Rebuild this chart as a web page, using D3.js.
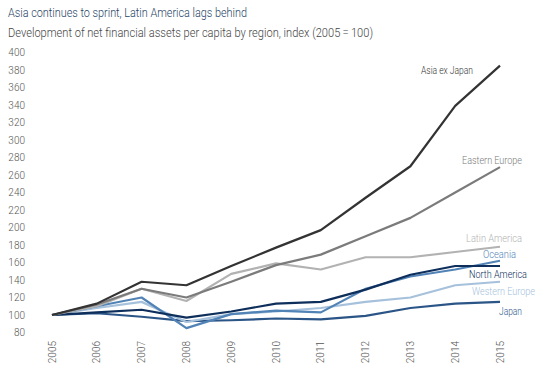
<!DOCTYPE html>
<html>
<head>
<meta charset="utf-8">
<script src="https://cdn.jsdelivr.net/npm/d3@7"></script>
<style>
  body { margin: 0; background: #fff; }
  svg { display: block; font-family: Roboto, "Open Sans", sans-serif; }
</style>
</head>
<body>
<svg id="chart" width="540" height="373"></svg>
<script>
// data
var years = [2005, 2006, 2007, 2008, 2009, 2010, 2011, 2012, 2013, 2014, 2015];
var yTicks = [80, 100, 120, 140, 160, 180, 200, 220, 240, 260, 280, 300, 320, 340, 360, 380, 400];

var asiaExJapan   = [100, 113, 138, 134, 156, 177, 197, 234, 270, 339, 385];
var easternEurope = [100, 112, 130, 120, 138, 157, 169, 190, 211, 240, 269];
var latinAmerica  = [100, 110, 130, 116, 147, 159, 152, 166, 166, 172, 178];
var oceania       = [100, 110, 120,  85, 101, 105, 103, 130, 144, 152, 162];
var northAmerica  = [100, 103, 106,  97, 104, 113, 115, 129, 146, 156, 156];
var westernEurope = [100, 108, 115,  92, 101, 104, 108, 115, 120, 134, 138];
var japan         = [100, 102,  98,  93,  94,  96,  95,  99, 108, 113, 115];

var seriesNames = ["Japan", "Western Europe", "Oceania", "North America", "Latin America", "Eastern Europe", "Asia ex Japan"];
var seriesValues = [japan, westernEurope, oceania, northAmerica, latinAmerica, easternEurope, asiaExJapan];

// styles
var colors = {
  "Asia ex Japan": "#333333",
  "Eastern Europe": "#7b7b7b",
  "Latin America": "#b2b2b2",
  "Oceania": "#5283b6",
  "North America": "#0e2f5c",
  "Western Europe": "#a6c1dc",
  "Japan": "#2b5587"
};
// right edge, baseline, width
var labelPos = {
  "Asia ex Japan": [473, 74, 52],
  "Eastern Europe": [522, 164, 60],
  "Latin America": [522, 242, 56],
  "Oceania": [516, 258, 33],
  "North America": [527, 278, 58],
  "Western Europe": [535, 295, 63],
  "Japan": [522, 315, 23]
};

var svg = d3.select("#chart");

var x = d3.scalePoint().domain(years).range([52, 500]);
var y = d3.scaleLinear().domain([80, 400]).range([332.5, 52.5]);

svg.append("text").attr("x", 8).attr("y", 17)
  .attr("fill", "#1f4466").attr("font-size", 12.5).attr("font-weight", 300)
  .attr("textLength", 239).attr("lengthAdjust", "spacingAndGlyphs")
  .text("Asia continues to sprint, Latin America lags behind");
svg.append("text").attr("x", 8).attr("y", 37)
  .attr("fill", "#444").attr("font-size", 12.5).attr("font-weight", 300)
  .attr("textLength", 365).attr("lengthAdjust", "spacingAndGlyphs")
  .text("Development of net financial assets per capita by region, index (2005\u2009=\u2009100)");

// y axis labels
var yAxis = svg.append("g").attr("transform", "translate(25,0)")
  .call(d3.axisLeft(y).tickValues(yTicks).tickSize(0).tickPadding(0));
yAxis.select(".domain").remove();
yAxis.selectAll("text").attr("fill", "#555").attr("font-size", 10).attr("font-weight", 300)
  .attr("font-family", "Roboto, sans-serif");

// x axis labels, rotated
var xAxis = svg.append("g")
  .call(d3.axisBottom(x).tickSize(0).tickPadding(0).tickFormat(d3.format("d")));
xAxis.select(".domain").remove();
xAxis.selectAll(".tick").attr("transform", function(d){ return "translate(" + x(d) + ",341)"; });
xAxis.selectAll("text")
  .attr("fill", "#555").attr("font-size", 10).attr("font-weight", 300)
  .attr("font-family", "Roboto, sans-serif")
  .attr("text-anchor", "end")
  .attr("transform", "rotate(-90)")
  .attr("x", 0).attr("y", 0).attr("dx", 0).attr("dy", "0.35em");

var line = d3.line()
  .x(function(d, i){ return x(years[i]); })
  .y(function(d){ return y(d); });

var g = svg.append("g");
seriesNames.forEach(function(name, i){
  g.append("path")
    .attr("d", line(seriesValues[i]))
    .attr("fill", "none")
    .attr("stroke", colors[name])
    .attr("stroke-width", 2.2)
    .attr("stroke-linejoin", "round");
  svg.append("text")
    .attr("x", labelPos[name][0]).attr("y", labelPos[name][1])
    .attr("text-anchor", "end")
    .attr("fill", colors[name]).attr("font-size", 10).attr("font-weight", 300)
    .attr("textLength", labelPos[name][2]).attr("lengthAdjust", "spacingAndGlyphs")
    .text(name);
});
</script>
</body>
</html>
